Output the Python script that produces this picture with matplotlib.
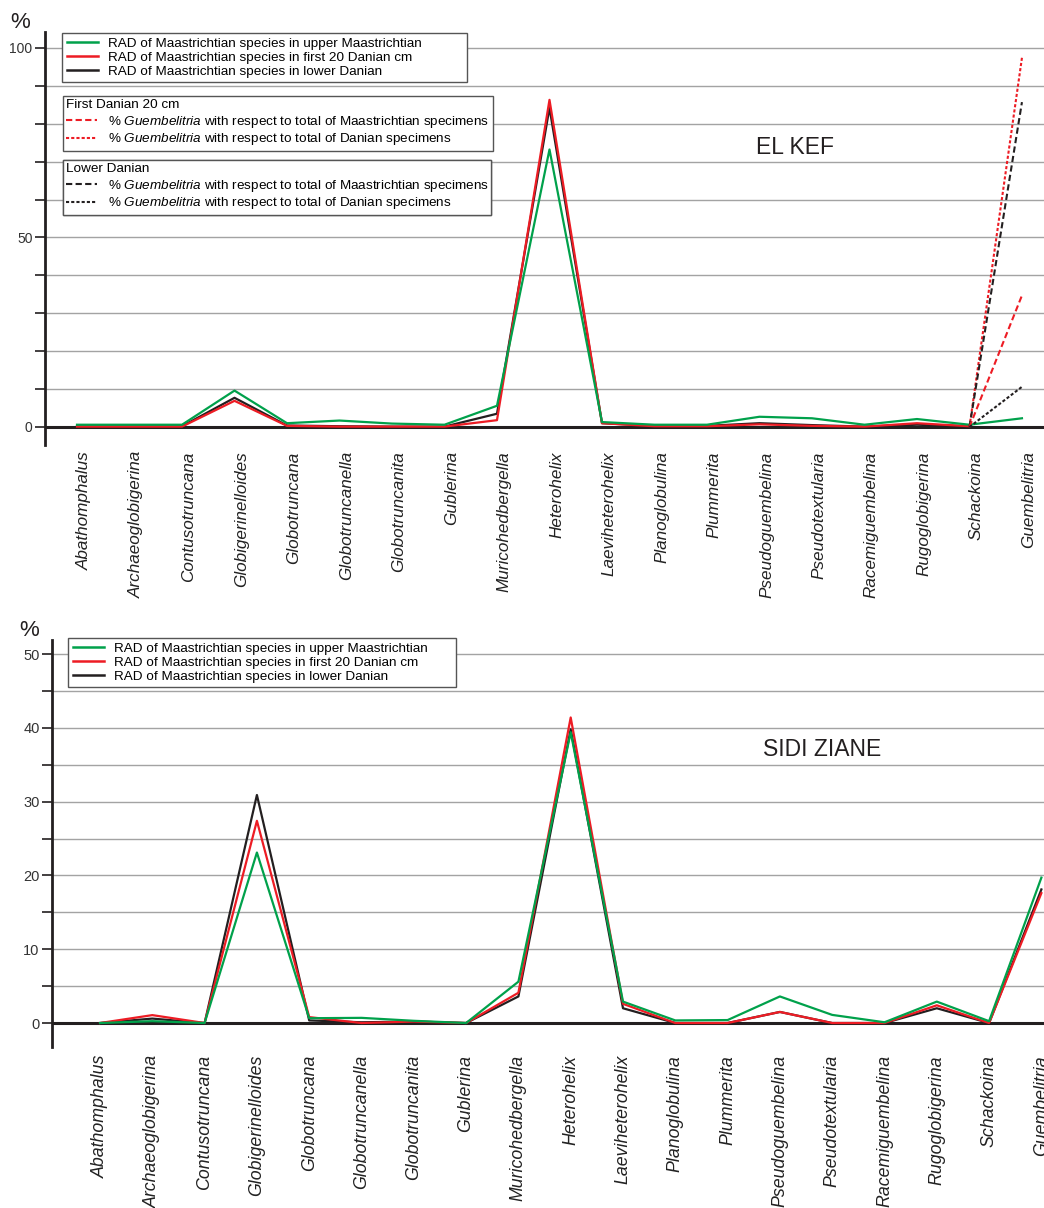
import numpy as np
import matplotlib
matplotlib.use('Agg')
import matplotlib.pyplot as plt
from matplotlib.lines import Line2D
from matplotlib.ticker import MultipleLocator
import matplotlib.transforms as mtransforms

plt.rcParams['font.family'] = ['Liberation Sans', 'DejaVu Sans']
plt.rcParams['mathtext.fontset'] = 'custom'
plt.rcParams['mathtext.rm'] = 'Liberation Sans'
plt.rcParams['mathtext.it'] = 'Liberation Sans:italic'

# genera, same order in both sections
genera = ['Abathomphalus', 'Archaeoglobigerina', 'Contusotruncana', 'Globigerinelloides',
          'Globotruncana', 'Globotruncanella', 'Globotruncanita', 'Gublerina',
          'Muricohedbergella', 'Heterohelix', 'Laeviheterohelix', 'Planoglobulina',
          'Plummerita', 'Pseudoguembelina', 'Pseudotextularia', 'Racemiguembelina',
          'Rugoglobigerina', 'Schackoina', 'Guembelitria']

# El Kef RAD (%)
kef_upper_maas = [0.6, 0.6, 0.6, 9.6, 1.0, 1.7, 0.9, 0.6, 5.6, 73.2, 1.3, 0.6, 0.6, 2.7, 2.3, 0.6, 2.1, 0.6, 2.3]
kef_first20 = [0.1, 0.1, 0.1, 6.9, 0.3, 0.1, 0.1, 0.1, 1.8, 86.3, 1.0, 0.2, 0.2, 0.7, 0.3, 0.1, 1.0, 0.2, np.nan]
kef_low_dan = [0.2, 0.2, 0.2, 7.7, 0.4, 0.2, 0.1, 0.1, 3.5, 84.2, 1.0, 0.3, 0.3, 1.0, 0.5, 0.1, 0.6, 0.2, np.nan]

# El Kef % Guembelitria, drawn Schackoina -> Guembelitria
gue_x = ['Schackoina', 'Guembelitria']
gue_first20_maas = [0, 34.7]
gue_first20_dan = [0, 97.4]
gue_low_maas = [0, 85.7]
gue_low_dan = [0, 10.6]

# Sidi Ziane RAD (%)
sz_upper_maas = [0, 0.25, 0, 23.1, 0.65, 0.7, 0.3, 0, 5.6, 39.4, 2.9, 0.35, 0.4, 3.6, 1.1, 0.1, 2.9, 0.25, 19.7]
sz_first20 = [0, 1.07, 0, 27.4, 0.8, 0, 0.2, 0, 4.1, 41.4, 2.6, 0, 0, 1.5, 0, 0, 2.4, 0, 17.6]
sz_low_dan = [0, 0.6, 0, 30.9, 0.35, 0.1, 0.2, 0, 3.6, 39.8, 2.0, 0, 0, 1.5, 0, 0, 2.0, 0, 18.1]

GREEN = '#00a14b'
RED = '#ed1c24'
BLACK = '#231f20'
GRID = '#a3a3a3'
LONG = (0, (3.0, 1.6))
SHORT = (0, (1.5, 1.0))

W, H = 1044, 1208
fig = plt.figure(figsize=(W / 100, H / 100), dpi=100)


def px_axes(left, top, right, bottom):
    return fig.add_axes([left / W, 1 - bottom / H, (right - left) / W, (bottom - top) / H])


def fbox(left, top, right, bottom):
    return (left / W, 1 - bottom / H, (right - left) / W, (bottom - top) / H)


def setup(ax, ylim, xlim, major, minor, ticksize, labelsize, labelpad):
    x = np.arange(len(genera))
    ax.set_xlim(*xlim)
    ax.set_ylim(*ylim)
    for s in ['top', 'right', 'bottom']:
        ax.spines[s].set_visible(False)
    ax.spines['left'].set_linewidth(2.0)
    ax.spines['left'].set_color(BLACK)
    ax.yaxis.set_major_locator(MultipleLocator(major))
    ax.yaxis.set_minor_locator(MultipleLocator(minor))
    ax.tick_params(axis='y', which='both', direction='out', length=7, width=1.2,
                   colors=BLACK, labelsize=ticksize, labelcolor='#333333', pad=2)
    ax.grid(axis='y', which='both', color=GRID, lw=1.0)
    ax.set_axisbelow(True)
    ax.set_xticks(x)
    ax.set_xticklabels(genera, rotation=90, style='italic', fontsize=labelsize,
                       color='#222222', va='top', ha='center')
    ax.tick_params(axis='x', length=0, pad=labelpad)
    ax.axhline(0, color=BLACK, lw=2.2, zorder=2.5)
    return x


# ---------------- El Kef ----------------
ax1 = px_axes(45, 32, 1044, 445)
x = setup(ax1, (-4.75, 104.2), (-0.61, 18.42), 50, 10, 10, 12.3, 4.5)
offset = mtransforms.ScaledTranslation(7 / 100, 0, fig.dpi_scale_trans)
for lab in ax1.get_xticklabels():
    lab.set_transform(lab.get_transform() + offset)
ax1.yaxis.set_major_formatter(lambda v, p: '%d' % v if v >= 0 else '')

ax1.plot(x, kef_low_dan, color=BLACK, lw=1.6, zorder=3)
ax1.plot(x, kef_first20, color=RED, lw=1.6, zorder=3)
ax1.plot(x, kef_upper_maas, color=GREEN, lw=1.6, zorder=3)
gx = [genera.index(g) for g in gue_x]
ax1.plot(gx, gue_first20_dan, color=RED, lw=1.5, ls=SHORT, zorder=3)
ax1.plot(gx, gue_low_maas, color=BLACK, lw=1.5, ls=LONG, zorder=3)
ax1.plot(gx, gue_first20_maas, color=RED, lw=1.5, ls=LONG, zorder=3)
ax1.plot(gx, gue_low_dan, color=BLACK, lw=1.5, ls=SHORT, zorder=3)

ax1.text(13.68, 73.6, 'EL KEF', fontsize=16.5, ha='center', va='center', color=BLACK)
fig.text(20 / W, 1 - 22 / H, '%', fontsize=16, ha='center', va='center', color=BLACK)

rad_labels = ['RAD of Maastrichtian species in upper Maastrichtian',
              'RAD of Maastrichtian species in first 20 Danian cm',
              'RAD of Maastrichtian species in lower Danian']
gue_labels = ['% $\\it{Guembelitria}$ with respect to total of Maastrichtian specimens',
              '% $\\it{Guembelitria}$ with respect to total of Danian specimens']

leg_kw = dict(loc='upper left', mode='expand', borderaxespad=0, fancybox=False,
              fontsize=9.7, frameon=True, edgecolor='#555555', framealpha=1,
              handlelength=2.3, handletextpad=0.8,
              bbox_transform=fig.transFigure)


def rad_handles():
    return [Line2D([], [], color=GREEN, lw=1.8), Line2D([], [], color=RED, lw=1.8),
            Line2D([], [], color=BLACK, lw=1.8)]


l1 = ax1.legend(rad_handles(), rad_labels, bbox_to_anchor=fbox(62, 33, 467, 88),
                labelspacing=0.1, borderpad=0.35, **leg_kw)
l1.get_frame().set_linewidth(1.0)
ax1.add_artist(l1)

for title, col, top, bottom, right in [('First Danian 20 cm', RED, 96, 153, 493),
                                       ('Lower Danian', BLACK, 160, 217, 491)]:
    hs = [Line2D([], [], color=col, lw=1.5, ls=LONG), Line2D([], [], color=col, lw=1.5, ls=SHORT)]
    lg = ax1.legend(hs, gue_labels, bbox_to_anchor=fbox(63, top, right, bottom),
                    title=title, title_fontsize=9.7, alignment='left',
                    labelspacing=0.1, borderpad=0.25, **leg_kw)
    lg._legend_box.sep = 2
    lg.get_frame().set_linewidth(1.0)
    ax1.add_artist(lg)

# ---------------- Sidi Ziane ----------------
ax2 = px_axes(52, 640, 1044, 1047)
x = setup(ax2, (-3.25, 51.9), (-0.918, 18.05), 10, 5, 10.5, 12.8, 5.8)
ax2.yaxis.set_major_formatter(lambda v, p: '%d' % v if v >= 0 else '')

ax2.plot(x, sz_low_dan, color=BLACK, lw=1.6, zorder=3)
ax2.plot(x, sz_first20, color=RED, lw=1.6, zorder=3)
ax2.plot(x, sz_upper_maas, color=GREEN, lw=1.6, zorder=3)

ax2.text(13.8, 37.0, 'SIDI ZIANE', fontsize=16.5, ha='center', va='center', color=BLACK)
fig.text(29 / W, 1 - 630 / H, '%', fontsize=16, ha='center', va='center', color=BLACK)

l3 = ax2.legend(rad_handles(), rad_labels, bbox_to_anchor=fbox(68, 638, 456, 694),
                labelspacing=0.1, borderpad=0.35, **leg_kw)
l3.get_frame().set_linewidth(1.0)

fig.savefig('out.png', dpi=100)
